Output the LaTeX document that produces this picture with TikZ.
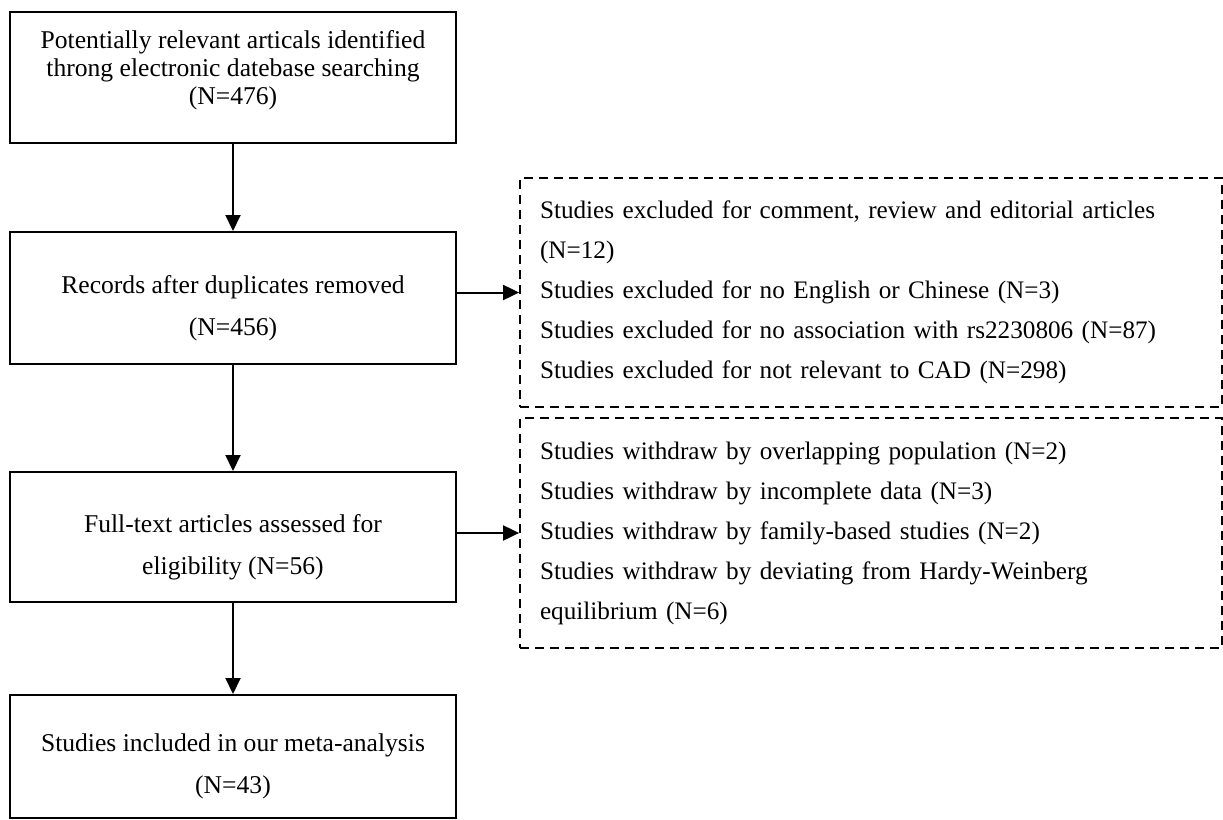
\documentclass[tikz,border=0pt]{standalone}
\usepackage{fontspec}
\setmainfont{Liberation Serif}
\usetikzlibrary{arrows.meta}
\begin{document}
\begin{tikzpicture}[x=0.5pt, y=-0.5pt,
    box/.style={rectangle, draw, line width=1pt, minimum width=223pt, align=center, font=\fontsize{12.8}{21}\selectfont},
    exclbox/.style={rectangle, draw, line width=0.9pt, dash pattern=on 4.5pt off 3pt, text width=331pt, inner xsep=10pt, align=left, font=\fontsize{12.6}{20}\selectfont},
    flow/.style={-{Triangle[width=7.5pt,length=8pt]}, line width=1pt}]
  \useasboundingbox (0,0) rectangle (1223,820);

  \node[box, minimum height=65.5pt, font=\fontsize{12.8}{14}\selectfont] (ident) at (233,77.5) {Potentially relevant articals identified\\throng electronic datebase searching\\(N=476)\rule[-10pt]{0pt}{10pt}};
  \node[box, minimum height=66pt] (dedup) at (233,298) {\rule{0pt}{19pt}Records after duplicates removed\\(N=456)};
  \node[box, minimum height=65pt] (fulltext) at (233,537) {\rule{0pt}{19pt}Full-text articles assessed for\\eligibility (N=56)};
  \node[box, minimum height=61.5pt] (incl) at (233,756.5) {\rule{0pt}{19pt}Studies included in our meta-analysis\\(N=43)};

  \node[exclbox, minimum height=114.5pt] (exclA) at (871,292.5) {Studies excluded for comment, review and editorial articles\\(N=12)\\Studies excluded for no English or Chinese (N=3)\\Studies excluded for no association with rs2230806 (N=87)\\Studies excluded for not relevant to CAD (N=298)};
  \node[exclbox, minimum height=115pt] (exclB) at (871,533) {Studies withdraw by overlapping population (N=2)\\Studies withdraw by incomplete data (N=3)\\Studies withdraw by family-based studies (N=2)\\Studies withdraw by deviating from Hardy-Weinberg\\equilibrium (N=6)};

  \draw[flow] (ident) -- (dedup);
  \draw[flow] (dedup) -- (fulltext);
  \draw[flow] (fulltext) -- (incl);
  \draw[flow] (dedup.east |- exclA) -- (exclA.west); % excluded
  \draw[flow] (fulltext.east |- exclB) -- (exclB.west); % withdrawn
\end{tikzpicture}
\end{document}
